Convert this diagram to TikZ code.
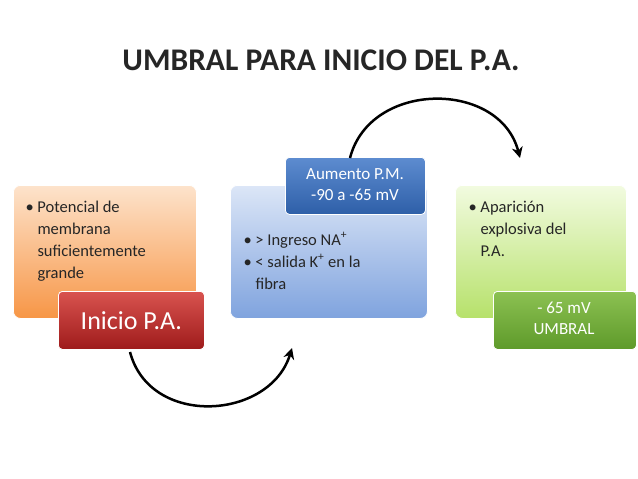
\documentclass[tikz,border=0pt]{standalone}
\usepackage{fontspec}
\setmainfont{Carlito}
\usetikzlibrary{arrows.meta}
\definecolor{orA}{HTML}{FDE3CC}\definecolor{orB}{HTML}{F79646}
\definecolor{blA}{HTML}{DCE6F7}\definecolor{blB}{HTML}{7FA3DE}
\definecolor{grA}{HTML}{F2FBE0}\definecolor{grB}{HTML}{B6E16A}
\definecolor{redA}{HTML}{D9534F}\definecolor{redB}{HTML}{9E1B1B}
\definecolor{dbA}{HTML}{5D8CD0}\definecolor{dbB}{HTML}{2E5FA8}
\definecolor{dgA}{HTML}{8CC152}\definecolor{dgB}{HTML}{5E9A2A}
\definecolor{txt}{HTML}{262626}
\tikzset{
 bigbox/.style={rounded corners=7pt,draw=white,line width=0.8pt,minimum width=#1,minimum height=133pt,anchor=north west},
 lab/.style={rounded corners=4pt,draw=white,line width=0.8pt,text=white,align=center,anchor=north west,minimum height=58pt},
 btxt/.style={anchor=north west,align=left,text=txt,font=\fontsize{16.5}{22}\selectfont},
 ltxt/.style={text=white,font=\fontsize{17}{21}\selectfont,align=center},
 arc/.style={line width=2.5pt,-{Stealth[length=11pt,width=11pt]}},
}
\begin{document}
\begin{tikzpicture}[x=1pt,y=-1pt]
\useasboundingbox[fill=white] (0,0) rectangle (638,479);
\node[font=\fontsize{31.5}{34}\selectfont\bfseries,text=txt] (title) at (321,60) {UMBRAL PARA INICIO DEL P.A.};
\node[bigbox=183pt,top color=orA,bottom color=orB] (b1) at (13,185) {};
\node[bigbox=197pt,top color=blA,bottom color=blB] (b2) at (230,185) {};
\node[bigbox=171pt,top color=grA,bottom color=grB] (b3) at (455,185) {};
\node[btxt] (t1) at (22,198) {• Potencial de\\\hspace*{12pt}membrana\\\hspace*{12pt}suficientemente\\\hspace*{12pt}grande};
\node[btxt] (t2) at (240,229) {• > Ingreso NA\textsuperscript{+}\\• < salida K\textsuperscript{+} en la\\\hspace*{12pt}fibra};
\node[btxt] (t3) at (465,198) {• Aparición\\\hspace*{12pt}explosiva del\\\hspace*{12pt}P.A.};
\node[lab,minimum width=146pt,top color=redA,bottom color=redB,font=\fontsize{26}{30}\selectfont] (l1) at (58,291) {Inicio P.A.};
\node[lab,minimum width=140pt,minimum height=57pt,top color=dbA,bottom color=dbB] (l2) at (285,157) {};
\node[ltxt] (l2t) at (355,185) {Aumento P.M.\\-90 a -65 mV};
\node[lab,minimum width=143pt,top color=dgA,bottom color=dgB] (l3) at (493,291) {};
\node[ltxt] (l3t) at (564,318) {- 65 mV\\UMBRAL};
\coordinate (a1s) at (130,352);
\coordinate (a1e) at (292,348);
\coordinate (a2s) at (350,158);
\coordinate (a2e) at (520,158);
\draw[arc] (a1s) .. controls (150,428) and (270,420) .. (a1e);
\draw[arc] (a2s) .. controls (370,80) and (500,80) .. (a2e);
\end{tikzpicture}
\end{document}
